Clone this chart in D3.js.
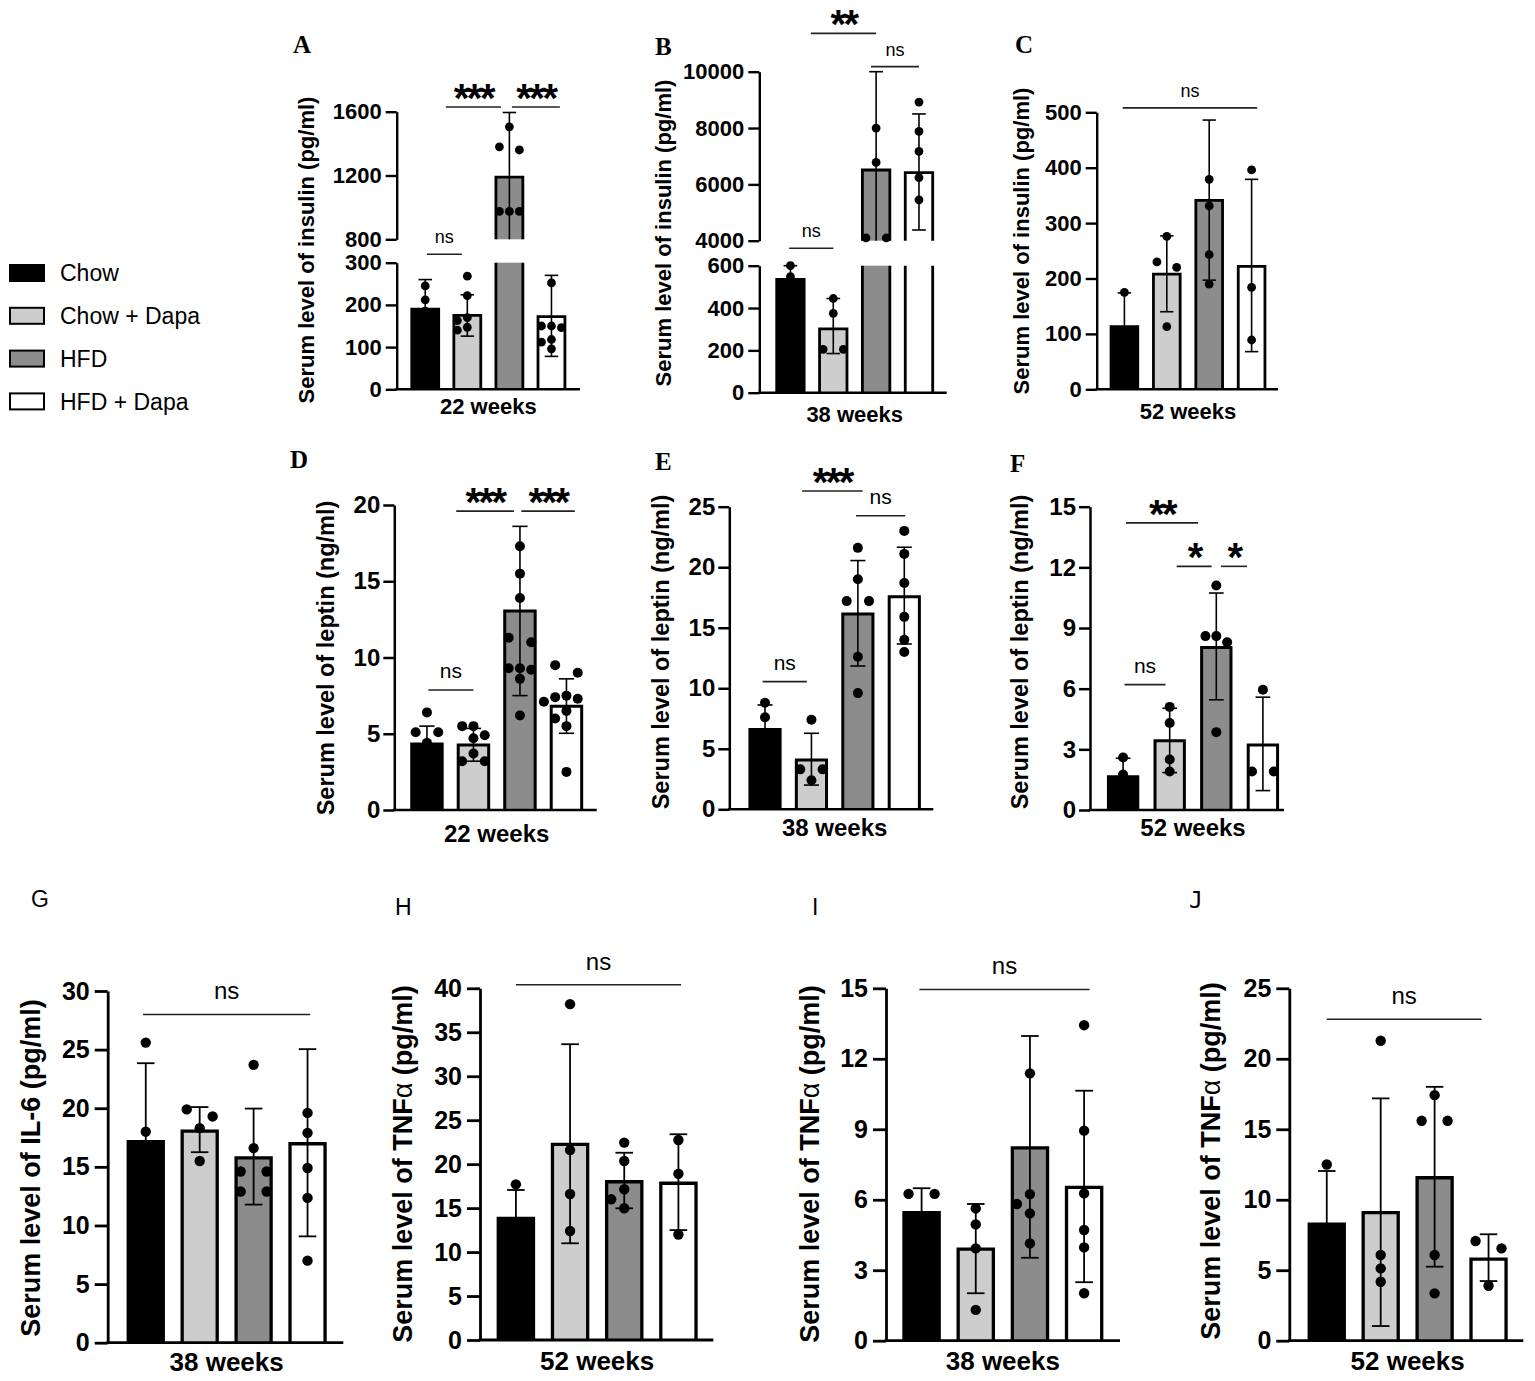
<!DOCTYPE html>
<html>
<head>
<meta charset="utf-8">
<script src="https://cdn.jsdelivr.net/npm/d3@7"></script>
<style>
  body { margin: 0; background: #fff; }
  svg { display: block; }
</style>
</head>
<body>
<div id="chart"></div>
<script>
const groups = ["Chow", "Chow + Dapa", "HFD", "HFD + Dapa"];
const groupFill = ["#000000", "#cdcdcd", "#8c8c8c", "#ffffff"];

// A - insulin, 22 weeks (broken axis)
const insulin22Mean = [190, 175, 1190, 172];
const insulin22Err = [[120, 260], [126, 224], [780, 1595], [78, 270]];
const insulin22Pts = [
  [245, 212, 185, 150, 102],
  [268, 222, 170, 163, 147, 140],
  [1505, 1380, 1360, 975, 975, 975],
  [252, 150, 150, 146, 118, 112, 96]
];
const insulin22Ticks = [0, 100, 200, 300, 800, 1200, 1600];
const insulin22Sig = [[0.04, 0.87, 480, "ns"], [0.49, 1.80, 1629, "***"], [2.06, 3.20, 1629, "***"]];

// B - insulin, 38 weeks (broken axis)
const insulin38Mean = [535, 302, 6510, 6420];
const insulin38Err = [[470, 600], [185, 445], [3000, 10000], [4380, 8500]];
const insulin38Pts = [[600, 548, 385], [445, 375, 205, 205], [8000, 6780, 4100, 4100], [8920, 7880, 7170, 6240, 5450]];
const insulin38Ticks = [0, 200, 400, 600, 4000, 6000, 8000, 10000];
const insulin38Sig = [[-0.03, 1.0, 2970, "ns"], [0.476, 2.0, 11360, "**"], [1.88, 3.0, 10180, "ns"]];

// C - insulin, 52 weeks
const insulin52Mean = [113, 208, 341, 222];
const insulin52Err = [[52, 174], [140, 277], [197, 486], [68, 379]];
const insulin52Pts = [[175, 100, 64], [276, 230, 220, 113], [379, 331, 243, 190], [396, 184, 89]];
const insulin52Ticks = [0, 100, 200, 300, 400, 500];
const insulin52Sig = [[-0.04, 3.13, 508, "ns"]];

// D - leptin, 22 weeks
const leptin22Mean = [4.33, 4.26, 13.05, 6.8];
const leptin22Err = [[3.2, 5.5], [3.2, 5.35], [7.5, 18.6], [5.03, 8.6]];
const leptin22Pts = [
  [6.4, 5.1, 5.1, 4.4, 3.6, 2.9, 2.2],
  [5.5, 5.5, 4.9, 4.7, 3.7, 3.2, 3.2],
  [17.3, 15.5, 13.9, 11.3, 11.0, 9.3, 9.3, 9.2, 8.6, 6.2],
  [9.5, 9.0, 7.5, 7.4, 7.3, 7.1, 6.5, 6.0, 5.5, 2.5]
];
const leptin22Ticks = [0, 5, 10, 15, 20];
const leptin22Sig = [[0.03, 1.0, 7.87, "ns"], [0.63, 1.87, 19.6, "***"], [2.03, 3.18, 19.6, "***"]];

// E - leptin, 38 weeks
const leptin38Mean = [6.6, 4.07, 16.14, 17.57];
const leptin38Err = [[4.6, 8.62], [2.0, 6.28], [11.84, 20.55], [13.66, 21.65]];
const leptin38Pts = [[8.8, 7.6, 3.5], [7.4, 3.3, 3.3, 2.4], [21.6, 19.0, 17.2, 17.2, 12.6, 9.6], [23.0, 21.1, 18.7, 15.9, 14.0, 13.0]];
const leptin38Ticks = [0, 5, 10, 15, 20, 25];
const leptin38Sig = [[-0.05, 0.9, 10.55, "ns"], [0.80, 2.10, 26.3, "***"], [1.96, 3.02, 24.25, "ns"]];

// F - leptin, 52 weeks
const leptin52Mean = [1.65, 3.42, 8.04, 3.22];
const leptin52Err = [[0.75, 2.56], [1.85, 5.03], [5.45, 10.73], [0.96, 5.58]];
const leptin52Pts = [[2.6, 1.75, 0.6], [5.1, 4.3, 2.5, 1.9], [11.1, 8.6, 8.6, 8.3, 3.85], [5.95, 1.9, 1.9]];
const leptin52Ticks = [0, 3, 6, 9, 12, 15];
const leptin52Sig = [[0.03, 0.91, 6.2, "ns"], [0.06, 1.61, 14.2, "**"], [1.15, 1.90, 12.05, "*"], [2.10, 2.66, 12.05, "*"]];

// G - IL-6, 38 weeks
const il6Mean = [17.14, 18.05, 15.77, 16.97];
const il6Err = [[10.4, 23.84], [16.25, 20.1], [11.78, 19.97], [9.07, 25.04]];
const il6Pts = [[25.6, 18.0, 13.0, 12.0], [19.9, 19.3, 18.3, 15.5], [23.7, 16.6, 14.6, 14.6, 12.9, 12.9], [19.6, 17.9, 14.9, 12.35, 7.0]];
const il6Ticks = [0, 5, 10, 15, 20, 25, 30];
const il6Sig = [[-0.05, 3.05, 28.0, "ns"]];

// H - TNFa, 52 weeks
const tnfH52Mean = [13.84, 22.26, 18.0, 17.83];
const tnfH52Err = [[10.5, 17.06], [11.0, 33.64], [14.98, 21.3], [12.5, 23.4]];
const tnfH52Pts = [[17.7, 12.5, 11.2], [38.2, 21.6, 16.6, 12.4], [22.45, 20.36, 17.14, 16.0, 14.98], [22.75, 18.9, 12.0]];
const tnfH52Ticks = [0, 5, 10, 15, 20, 25, 30, 35, 40];
const tnfH52Sig = [[0.0, 3.05, 40.4, "ns"]];

// I - TNFa, 38 weeks
const tnf38Mean = [5.45, 3.9, 8.21, 6.53];
const tnf38Err = [[4.4, 6.49], [2.02, 5.82], [3.53, 12.97], [2.49, 10.64]];
const tnf38Pts = [[6.25, 6.25, 3.9], [5.63, 4.95, 3.93, 1.31], [11.38, 6.24, 5.82, 5.42, 4.14], [13.43, 8.94, 6.27, 4.71, 3.97, 2.02]];
const tnf38Ticks = [0, 3, 6, 9, 12, 15];
const tnf38Sig = [[-0.04, 3.1, 14.95, "ns"]];

// J - TNFa, 52 weeks
const tnfJ52Mean = [8.26, 9.08, 11.56, 5.79];
const tnfJ52Err = [[4.5, 12.04], [1.04, 17.19], [5.25, 18.01], [4.23, 7.55]];
const tnfJ52Pts = [[12.5, 7.0, 5.3], [21.28, 6.08, 5.13, 4.18], [17.42, 15.6, 15.6, 6.08, 3.36], [7.07, 6.55, 3.9]];
const tnfJ52Ticks = [0, 5, 10, 15, 20, 25];
const tnfJ52Sig = [[0.0, 2.87, 22.8, "ns"]];

const SANS = "'Liberation Sans', Arial, sans-serif";
const SERIF = "'Liberation Serif', 'Times New Roman', serif";

// sizes per figure row
const row1 = { tick: 22, lab: 22, xlab: 22, ns: 18, star: 40, r: 4.4, bar: 2.8, axis: 2.4, err: 1.6, nsOff: 11, starOff: 5, tickLen: 11, tickPad: 4 };
const row2 = { tick: 24, lab: 23.5, xlab: 24, ns: 21, star: 40, r: 5, bar: 3, axis: 2.5, err: 1.6, nsOff: 11.5, starOff: 5, tickLen: 11, tickPad: 3 };
const row3 = { tick: 25, lab: 27, xlab: 26, ns: 24, star: 40, r: 5.2, bar: 3.3, axis: 2.8, err: 1.8, nsOff: 15, starOff: 5, tickLen: 13, tickPad: 5 };

const panels = [
  { letter: "A", lf: SERIF, lw: 700, lpos: [293, 53], s: row1, mean: insulin22Mean, err: insulin22Err, pts: insulin22Pts, ticks: insulin22Ticks, sig: insulin22Sig,
    ylab: "Serum level of insulin (pg/ml)", xlab: "22 weeks",
    yDomain: [0, 300, 800, 1600], yRange: [389.3, 262.7, 239.3, 111.7], segs: [[0, 300], [800, 1600]],
    axisX: 396.7, xEnd: 580, band: [404.2, 572.5], pad: 0.36, lab: [308, 250], xlabY: 414 },
  { letter: "B", lf: SERIF, lw: 700, lpos: [655, 55], s: row1, mean: insulin38Mean, err: insulin38Err, pts: insulin38Pts, ticks: insulin38Ticks, sig: insulin38Sig,
    ylab: "Serum level of insulin (pg/ml)", xlab: "38 weeks",
    yDomain: [0, 600, 4000, 10000], yRange: [392.7, 265.7, 240.7, 71.7], segs: [[0, 600], [4000, 10000]],
    axisX: 759.3, xEnd: 946.7, band: [769, 940.4], pad: 0.36, lab: [665, 233], xlabY: 422 },
  { letter: "C", lf: SERIF, lw: 700, lpos: [1015, 53], s: row1, mean: insulin52Mean, err: insulin52Err, pts: insulin52Pts, ticks: insulin52Ticks, sig: insulin52Sig,
    ylab: "Serum level of insulin (pg/ml)", xlab: "52 weeks",
    yDomain: [0, 500], yRange: [389.3, 112.3], segs: [[0, 500]],
    axisX: 1096.7, xEnd: 1278, band: [1103.2, 1272.8], pad: 0.37, lab: [1023, 241], xlabY: 419 },
  { letter: "D", lf: SERIF, lw: 700, lpos: [290, 468], s: row2, mean: leptin22Mean, err: leptin22Err, pts: leptin22Pts, ticks: leptin22Ticks, sig: leptin22Sig,
    ylab: "Serum level of leptin (ng/ml)", xlab: "22 weeks",
    yDomain: [0, 20], yRange: [810, 505], segs: [[0, 20]],
    axisX: 394.3, xEnd: 596.7, band: [403.7, 589.7], pad: 0.345, lab: [328, 658], xlabY: 842 },
  { letter: "E", lf: SERIF, lw: 700, lpos: [655, 470], s: row2, mean: leptin38Mean, err: leptin38Err, pts: leptin38Pts, ticks: leptin38Ticks, sig: leptin38Sig,
    ylab: "Serum level of leptin (ng/ml)", xlab: "38 weeks",
    yDomain: [0, 25], yRange: [809.3, 506.7], segs: [[0, 25]],
    axisX: 729.3, xEnd: 933.3, band: [741.8, 927.5], pad: 0.35, lab: [663, 652], xlabY: 836 },
  { letter: "F", lf: SERIF, lw: 700, lpos: [1010, 472], s: row2, mean: leptin52Mean, err: leptin52Err, pts: leptin52Pts, ticks: leptin52Ticks, sig: leptin52Sig,
    ylab: "Serum level of leptin (ng/ml)", xlab: "52 weeks",
    yDomain: [0, 15], yRange: [810, 506.7], segs: [[0, 15]],
    axisX: 1090, xEnd: 1284, band: [1099.8, 1286.2], pad: 0.37, lab: [1022, 652], xlabY: 836 },
  { letter: "G", lf: SANS, lw: 400, lpos: [31, 907], s: row3, mean: il6Mean, err: il6Err, pts: il6Pts, ticks: il6Ticks, sig: il6Sig,
    ylab: "Serum level of IL-6 (pg/ml)", xlab: "38 weeks",
    yDomain: [0, 30], yRange: [1342.7, 991], segs: [[0, 30]],
    axisX: 107.7, xEnd: 343.3, band: [118.8, 334.5], pad: 0.35, lab: [33, 1168], xlabY: 1371 },
  { letter: "H", lf: SANS, lw: 400, lpos: [395, 915], s: row3, mean: tnfH52Mean, err: tnfH52Err, pts: tnfH52Pts, ticks: tnfH52Ticks, sig: tnfH52Sig,
    ylab: "Serum level of TNFα (pg/ml)", xlab: "52 weeks",
    yDomain: [0, 40], yRange: [1340, 988.3], segs: [[0, 40]],
    axisX: 480, xEnd: 713.3, band: [488.8, 705.5], pad: 0.35, lab: [405, 1164], xlabY: 1370 },
  { letter: "I", lf: SANS, lw: 400, lpos: [812, 915], s: row3, mean: tnf38Mean, err: tnf38Err, pts: tnf38Pts, ticks: tnf38Ticks, sig: tnf38Sig,
    ylab: "Serum level of TNFα (pg/ml)", xlab: "38 weeks",
    yDomain: [0, 15], yRange: [1340.7, 988.3], segs: [[0, 15]],
    axisX: 886, xEnd: 1120, band: [894.5, 1111.2], pad: 0.35, lab: [812, 1164], xlabY: 1370 },
  { letter: "J", lf: "'DejaVu Sans Mono', monospace", lw: 400, lpos: [1189, 908], s: row3, mean: tnfJ52Mean, err: tnfJ52Err, pts: tnfJ52Pts, ticks: tnfJ52Ticks, sig: tnfJ52Sig,
    ylab: "Serum level of TNFα (pg/ml)", xlab: "52 weeks",
    yDomain: [0, 25], yRange: [1340.7, 988.3], segs: [[0, 25]],
    axisX: 1289.3, xEnd: 1523.3, band: [1299.8, 1515.5], pad: 0.35, lab: [1213, 1161], xlabY: 1370 }
];

const svg = d3.select("#chart").append("svg")
  .attr("width", 1535)
  .attr("height", 1381)
  .attr("font-family", SANS);

// spread overlapping dots sideways, like a column scatter
function spread(vals, y, r, step) {
  const py = vals.map(v => y(v));
  const comp = py.map(() => -1);
  let c = 0;
  py.forEach((_, i) => {
    if (comp[i] >= 0) return;
    const stack = [i];
    comp[i] = c;
    while (stack.length) {
      const k = stack.pop();
      py.forEach((b, j) => {
        if (comp[j] < 0 && Math.abs(py[k] - b) < 2 * r) { comp[j] = c; stack.push(j); }
      });
    }
    c++;
  });
  const size = comp.map(k => comp.filter(m => m === k).length);
  const placed = [];
  return py.map((yy, i) => {
    const order = size[i] === 2 ? [-step, step, 0] : [0, -step, step, -2 * step, 2 * step];
    let dx = order.find(o => placed.every(p => Math.hypot(p[0] - o, p[1] - yy) >= 2 * r));
    if (dx === undefined) dx = 0;
    placed.push([dx, yy]);
    return [dx, yy];
  });
}

function drawPanel(p) {
  const s = p.s;
  const g = svg.append("g");

  const x = d3.scaleBand().domain(groups).range(p.band)
    .paddingInner(p.pad).paddingOuter(p.pad / 2);
  const y = d3.scaleLinear().domain(p.yDomain).range(p.yRange);
  const bw = x.bandwidth();
  const cx = i => x(groups[0]) + bw / 2 + i * x.step();

  // bars, one piece per axis segment
  p.segs.forEach(seg => {
    groups.forEach((grp, i) => {
      const v = p.mean[i];
      if (v <= seg[0]) return;
      const top = Math.min(v, seg[1]);
      const x0 = x(grp), yb = y(seg[0]), yt = y(top);
      g.append("rect")
        .attr("x", x0).attr("y", yt)
        .attr("width", bw).attr("height", yb - yt)
        .attr("fill", groupFill[i]);
      const d = `M${x0},${yb}V${yt}` + (v <= seg[1] ? `H${x0 + bw}` : `M${x0 + bw},${yt}`) + `V${yb}`;
      g.append("path").attr("d", d)
        .attr("fill", "none").attr("stroke", "#000")
        .attr("stroke-width", s.bar).attr("stroke-linejoin", "miter");
    });
  });

  // error bars
  const capW = bw * 0.5;
  groups.forEach((grp, i) => {
    const [lo, hi] = p.err[i];
    const c = cx(i);
    p.segs.forEach(seg => {
      const a = Math.max(lo, seg[0]), b = Math.min(hi, seg[1]);
      if (a < b) {
        g.append("line").attr("x1", c).attr("x2", c).attr("y1", y(a)).attr("y2", y(b))
          .attr("stroke", "#000").attr("stroke-width", s.err);
      }
      [lo, hi].forEach(e => {
        if (e > 0 && e >= seg[0] && e <= seg[1]) {
          g.append("line").attr("x1", c - capW / 2).attr("x2", c + capW / 2)
            .attr("y1", y(e)).attr("y2", y(e))
            .attr("stroke", "#000").attr("stroke-width", s.err);
        }
      });
    });
  });

  // dots
  groups.forEach((grp, i) => {
    const pos = spread(p.pts[i], y, s.r, bw * 0.37);
    g.append("g").selectAll("circle").data(pos).join("circle")
      .attr("cx", d => cx(i) + d[0])
      .attr("cy", d => d[1])
      .attr("r", s.r)
      .attr("fill", "#000");
  });

  // axes
  p.segs.forEach(seg => {
    const ys = d3.scaleLinear().domain(seg).range([y(seg[0]), y(seg[1])]);
    const ax = g.append("g")
      .attr("transform", `translate(${p.axisX},0)`)
      .call(d3.axisLeft(ys)
        .tickValues(p.ticks.filter(t => t >= seg[0] && t <= seg[1]))
        .tickSize(s.tickLen).tickSizeOuter(0).tickPadding(s.tickPad)
        .tickFormat(d3.format("d")));
    ax.attr("font-family", SANS).attr("font-size", s.tick).attr("font-weight", 700);
    ax.selectAll("path, line").attr("stroke", "#000").attr("stroke-width", s.axis);
    ax.selectAll("text").attr("fill", "#000");
  });
  g.append("line")
    .attr("x1", p.axisX - s.axis / 2).attr("x2", p.xEnd)
    .attr("y1", y(0)).attr("y2", y(0))
    .attr("stroke", "#000").attr("stroke-width", s.axis);

  // significance brackets
  p.sig.forEach(([a, b, v, lab]) => {
    const yy = y(v);
    g.append("line").attr("x1", cx(a)).attr("x2", cx(b)).attr("y1", yy).attr("y2", yy)
      .attr("stroke", "#222").attr("stroke-width", 1.6);
    const star = lab.includes("*");
    g.append("text")
      .attr("x", (cx(a) + cx(b)) / 2)
      .attr("y", star ? yy + s.starOff : yy - s.nsOff)
      .attr("text-anchor", "middle")
      .attr("font-size", star ? s.star : s.ns)
      .attr("font-weight", star ? 700 : 400)
      .attr("letter-spacing", star ? -2.5 : 0)
      .text(lab);
  });

  // y label
  const yl = g.append("text")
    .attr("transform", `translate(${p.lab[0]},${p.lab[1]}) rotate(-90)`)
    .attr("dy", "0.25em")
    .attr("text-anchor", "middle")
    .attr("font-size", s.lab)
    .attr("font-weight", 700);
  p.ylab.split(/(α)/).forEach(part => {
    if (!part) return;
    yl.append("tspan").attr("font-weight", part === "α" ? 400 : 700).text(part);
  });

  // x label
  g.append("text")
    .attr("x", (p.band[0] + p.band[1]) / 2)
    .attr("y", p.xlabY)
    .attr("text-anchor", "middle")
    .attr("font-size", s.xlab)
    .attr("font-weight", 700)
    .text(p.xlab);

  // panel letter
  g.append("text")
    .attr("x", p.lpos[0]).attr("y", p.lpos[1])
    .attr("font-family", p.lf)
    .attr("font-weight", p.lw)
    .attr("font-size", p.lf === SERIF ? 25 : 23)
    .text(p.letter);
}

panels.forEach(drawPanel);

// legend
const legend = svg.append("g").attr("transform", "translate(9,273)");
const li = legend.selectAll("g").data(groups).join("g")
  .attr("transform", (d, i) => `translate(0,${i * 42.8})`);
li.append("rect")
  .attr("x", 1).attr("y", -8).attr("width", 34).attr("height", 16)
  .attr("fill", (d, i) => groupFill[i])
  .attr("stroke", "#000").attr("stroke-width", 2);
li.append("text")
  .attr("x", 51).attr("dy", "0.36em")
  .attr("font-size", 23)
  .text(d => d);
</script>
</body>
</html>
